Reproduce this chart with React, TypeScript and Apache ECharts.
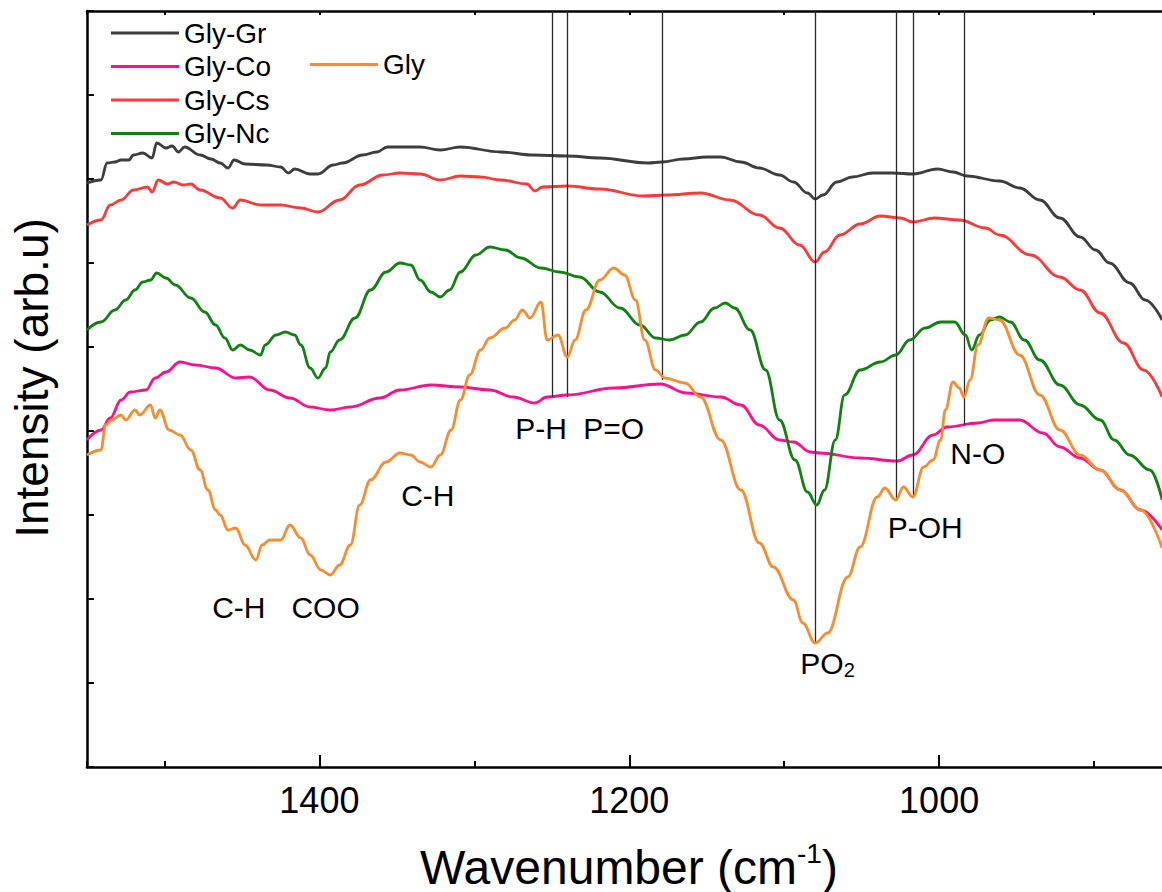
import React, { useEffect, useRef } from "react";
import * as echarts from "echarts";

const FONT = '"Liberation Sans", Arial, Helvetica, sans-serif';

// Tick steps (wavenumber, cm^-1) and intensity tick step
const majorTickStep = 200;
const minorTickStep = 100;
const yTickStep = 84;

// [wavenumber, intensity (arb.u)]
const glyGr: [number, number][] = [
  [1550, 584], [1541, 587], [1537, 604], [1532, 605], [1528, 607], [1523, 607], [1520, 612], [1514, 614],
  [1508, 609], [1505, 624], [1499, 619], [1495, 621], [1491, 615], [1487, 620], [1477, 612], [1470, 608],
  [1464, 604], [1459, 599], [1455, 607], [1448, 603], [1434, 602], [1425, 600], [1420, 594], [1416, 598],
  [1406, 593], [1401, 593], [1391, 602], [1385, 604], [1372, 612], [1363, 615], [1356, 620], [1348, 620],
  [1335, 620], [1322, 617], [1309, 620], [1283, 615], [1262, 612], [1240, 611], [1219, 609], [1188, 604],
  [1179, 605], [1165, 608], [1150, 610], [1141, 610], [1128, 605], [1116, 599], [1103, 592], [1094, 585],
  [1085, 574], [1080, 568], [1075, 572], [1066, 585], [1056, 590], [1043, 594], [1030, 594], [1017, 593],
  [1001, 598], [991, 595], [982, 591], [961, 586], [948, 579], [935, 567], [922, 549], [909, 530],
  [899, 517], [890, 504], [877, 484], [867, 467], [856, 447],
];

const glyCs: [number, number][] = [
  [1550, 542], [1541, 547], [1535, 562], [1528, 567], [1520, 577], [1511, 580], [1508, 575], [1504, 587],
  [1498, 583], [1494, 585], [1488, 582], [1483, 583], [1477, 577], [1464, 569], [1456, 559], [1451, 567],
  [1438, 562], [1425, 562], [1412, 559], [1401, 555], [1387, 567], [1374, 582], [1359, 592], [1348, 594],
  [1335, 593], [1322, 587], [1309, 591], [1296, 590], [1283, 587], [1266, 583], [1261, 576], [1256, 580],
  [1240, 581], [1219, 578], [1191, 571], [1176, 572], [1154, 574], [1135, 567], [1116, 552], [1103, 539],
  [1090, 522], [1080, 505], [1074, 515], [1064, 532], [1051, 543], [1038, 551], [1025, 549], [1017, 545],
  [1003, 549], [987, 547], [970, 539], [961, 532], [941, 512], [922, 490], [909, 477], [896, 454],
  [881, 424], [868, 397], [856, 370],
];

const glyNc: [number, number][] = [
  [1550, 437], [1541, 445], [1532, 457], [1525, 467], [1519, 477], [1514, 485], [1509, 487], [1505, 494],
  [1499, 489], [1493, 482], [1483, 469], [1474, 455], [1467, 442], [1461, 429], [1456, 417], [1451, 422],
  [1445, 417], [1438, 412], [1435, 422], [1428, 432], [1422, 435], [1416, 432], [1412, 422], [1406, 399],
  [1401, 389], [1396, 399], [1393, 415], [1387, 427], [1377, 449], [1367, 477], [1357, 495], [1348, 504],
  [1341, 502], [1335, 487], [1328, 475], [1322, 470], [1316, 477], [1309, 495], [1299, 512], [1290, 520],
  [1280, 517], [1270, 509], [1257, 499], [1245, 495], [1232, 490], [1219, 475], [1206, 459], [1193, 442],
  [1183, 429], [1174, 427], [1164, 432], [1154, 445], [1145, 459], [1138, 464], [1132, 459], [1122, 437],
  [1112, 397], [1103, 347], [1093, 307], [1085, 275], [1079, 262], [1074, 277], [1067, 327], [1061, 372],
  [1051, 397], [1038, 405], [1028, 412], [1019, 427], [1009, 439], [999, 445], [990, 445], [983, 432],
  [979, 417], [974, 432], [967, 447], [961, 450], [954, 445], [945, 427], [935, 407], [922, 382],
  [909, 362], [896, 347], [887, 327], [877, 312], [864, 297], [856, 267],
];

const glyCo: [number, number][] = [
  [1550, 327], [1541, 337], [1535, 349], [1528, 367], [1522, 375], [1512, 377], [1506, 389], [1499, 395],
  [1490, 405], [1480, 402], [1467, 399], [1454, 389], [1445, 390], [1432, 377], [1419, 369], [1406, 360],
  [1393, 357], [1380, 360], [1361, 369], [1348, 377], [1328, 382], [1309, 380], [1290, 377], [1275, 370],
  [1261, 364], [1253, 370], [1240, 372], [1210, 379], [1180, 383], [1163, 374], [1141, 370], [1128, 362],
  [1116, 342], [1103, 327], [1094, 325], [1083, 315], [1077, 314], [1051, 309], [1027, 306], [1017, 312],
  [1004, 332], [995, 340], [975, 344], [965, 347], [948, 347], [933, 334], [922, 320], [909, 309],
  [896, 297], [883, 277], [870, 257], [856, 237],
];

const gly: [number, number][] = [
  [1550, 312], [1541, 317], [1538, 342], [1534, 347], [1528, 352], [1525, 347], [1519, 357], [1516, 352],
  [1509, 362], [1506, 349], [1503, 357], [1497, 337], [1490, 332], [1483, 317], [1477, 297], [1472, 277],
  [1467, 257], [1464, 252], [1459, 237], [1454, 239], [1448, 222], [1441, 207], [1437, 222], [1432, 227],
  [1425, 227], [1419, 242], [1412, 229], [1406, 212], [1399, 197], [1393, 192], [1387, 202], [1380, 222],
  [1374, 262], [1367, 287], [1357, 305], [1348, 314], [1341, 312], [1335, 305], [1328, 300], [1322, 312],
  [1315, 337], [1309, 367], [1303, 392], [1296, 417], [1290, 429], [1280, 439], [1274, 447], [1269, 457],
  [1264, 449], [1257, 465], [1253, 427], [1246, 432], [1240, 410], [1235, 427], [1228, 457], [1219, 487],
  [1210, 499], [1203, 492], [1196, 467], [1190, 427], [1183, 397], [1177, 389], [1164, 384], [1154, 370],
  [1141, 327], [1128, 277], [1116, 224], [1107, 200], [1094, 167], [1088, 144], [1080, 124], [1072, 134],
  [1059, 190], [1051, 220], [1040, 270], [1035, 279], [1028, 267], [1023, 280], [1017, 270], [1010, 300],
  [1004, 307], [999, 327], [996, 357], [991, 385], [987, 379], [984, 370], [980, 387], [975, 422],
  [968, 449], [961, 447], [948, 412], [935, 372], [922, 337], [909, 312], [896, 297], [883, 277],
  [870, 257], [856, 219],
];

// Band assignments: vertical guide lines [wavenumber, top intensity, bottom intensity]
const bandLines: [number, number, number][] = [
  [1250, 756, 370], [1240, 756, 370], [1179, 756, 387], [1080, 756, 124],
  [1028, 756, 267], [1017, 756, 270], [984, 756, 342],
];

// Band labels [name, wavenumber, intensity]
const bandLabels: [string, number, number][] = [
  ["C-H", 1452, 160], ["COO", 1396, 160], ["C-H", 1330, 272], ["P-H", 1257, 339],
  ["P=O", 1210, 339], ["PO2", 1072, 104], ["P-OH", 1009, 240], ["N-O", 975, 314],
];

const seriesNames = ["Gly-Gr", "Gly-Co", "Gly-Cs", "Gly-Nc", "Gly"];
const seriesColors = ["#3d3d3d", "#ff0f8c", "#ff3838", "#0f820f", "#f98c2c"];

export default function App() {
  const ref = useRef<HTMLDivElement>(null);

  useEffect(() => {
    document.body.style.margin = "0";
    const chart = echarts.init(ref.current as HTMLDivElement, null, { renderer: "svg" });

    const dataMap: Record<string, [number, number][]> = {
      "Gly-Gr": glyGr,
      "Gly-Co": glyCo,
      "Gly-Cs": glyCs,
      "Gly-Nc": glyNc,
      Gly: gly,
    };

    const axisLineStyle = { color: "#000", width: 2.5 };

    const series: any[] = seriesNames.map((name, i) => ({
      name,
      type: "line",
      data: dataMap[name],
      showSymbol: false,
      symbol: "none",
      smooth: 0.4,
      smoothMonotone: "x",
      color: seriesColors[i],
      lineStyle: { color: seriesColors[i], width: 2.8 },
      itemStyle: { color: seriesColors[i] },
      z: 2 + i,
    }));

    series[4].markLine = {
      silent: true,
      symbol: ["none", "none"],
      animation: false,
      label: { show: false },
      lineStyle: { color: "#2a2a2a", width: 1.3, type: "solid" },
      emphasis: { disabled: true },
      data: bandLines.map(([wn, top, bot]) => [{ coord: [wn, top] }, { coord: [wn, bot] }]),
    };

    series[4].markPoint = {
      silent: true,
      symbol: "circle",
      symbolSize: 1,
      itemStyle: { color: "rgba(0,0,0,0)" },
      label: {
        show: true,
        position: "inside",
        formatter: "{b}",
        color: "#000",
        fontSize: 30,
        fontFamily: FONT,
      },
      data: bandLabels.map(([name, wn, v]) =>
        name === "PO2"
          ? {
              name,
              coord: [wn, v],
              label: {
                formatter: "{a|PO}{b|2}",
                rich: {
                  a: { fontSize: 30, lineHeight: 34, color: "#000", fontFamily: FONT },
                  b: { fontSize: 20, lineHeight: 12, verticalAlign: "bottom", color: "#000", fontFamily: FONT },
                },
              },
            }
          : { name, coord: [wn, v] }
      ),
    };

    const legendCommon = {
      orient: "vertical",
      icon: "rect",
      itemWidth: 68,
      itemHeight: 3,
      itemGap: 5.5,
      padding: 0,
      selectedMode: false,
      textStyle: { fontSize: 28, lineHeight: 26, color: "#000", fontFamily: FONT },
    };

    const xCommon = {
      type: "value",
      min: 800,
      max: 1550,
      inverse: true,
      splitLine: { show: false },
    };

    const option: any = {
      animation: false,
      backgroundColor: "#fff",
      grid: {
        left: 87,
        top: 11,
        width: 1162,
        height: 756,
        containLabel: false,
        outerBoundsMode: "none",
      },
      legend: [
        { ...legendCommon, data: ["Gly-Gr", "Gly-Co", "Gly-Cs", "Gly-Nc"], left: 111, top: 19 },
        { ...legendCommon, data: ["Gly"], left: 310, top: 50.5 },
      ],
      xAxis: [
        {
          ...xCommon,
          position: "bottom",
          interval: majorTickStep,
          axisLine: { show: true, onZero: false, lineStyle: axisLineStyle },
          axisTick: { show: true, inside: true, length: 12, lineStyle: { color: "#000", width: 2 } },
          axisLabel: {
            margin: 15,
            fontSize: 36,
            color: "#000",
            fontFamily: FONT,
            showMinLabel: false,
            showMaxLabel: false,
            formatter: (v: number) => (v % majorTickStep === 0 && v >= 1000 ? String(v) : ""),
          },
        },
        {
          ...xCommon,
          position: "bottom",
          interval: minorTickStep,
          axisLine: { show: false, onZero: false },
          axisTick: { show: true, inside: true, length: 6, lineStyle: { color: "#000", width: 2 } },
          axisLabel: { show: false },
        },
        {
          ...xCommon,
          position: "top",
          interval: minorTickStep,
          axisLine: { show: true, onZero: false, lineStyle: axisLineStyle },
          axisTick: { show: true, inside: true, length: 4, lineStyle: { color: "#000", width: 2 } },
          axisLabel: { show: false },
        },
      ],
      yAxis: {
        type: "value",
        min: 0,
        max: 756,
        interval: yTickStep,
        axisLine: { show: true, onZero: false, lineStyle: axisLineStyle },
        axisTick: { show: true, inside: true, length: 7, lineStyle: { color: "#000", width: 2 } },
        axisLabel: { show: false },
        splitLine: { show: false },
        name: "Intensity (arb.u)",
        nameLocation: "middle",
        nameRotate: 90,
        nameGap: 32,
        nameTextStyle: { fontSize: 46, color: "#000", fontFamily: FONT, padding: [0, 0, 0, 22] },
      },
      graphic: [
        {
          type: "text",
          x: 629,
          y: 867,
          silent: true,
          style: {
            text: "{a|Wavenumber (cm}{s|-1}{a|)}",
            align: "center",
            verticalAlign: "middle",
            fill: "#000",
            rich: {
              a: { fontSize: 48, lineHeight: 56, fontFamily: FONT, fill: "#000" },
              s: { fontSize: 28, lineHeight: 36, verticalAlign: "top", fontFamily: FONT, fill: "#000" },
            },
          },
        },
      ],
      series,
    };

    chart.setOption(option);
    return () => chart.dispose();
  }, []);

  return (
    <div
      ref={ref}
      style={{ position: "absolute", left: 0, top: 0, width: 1162, height: 892 }}
    />
  );
}
